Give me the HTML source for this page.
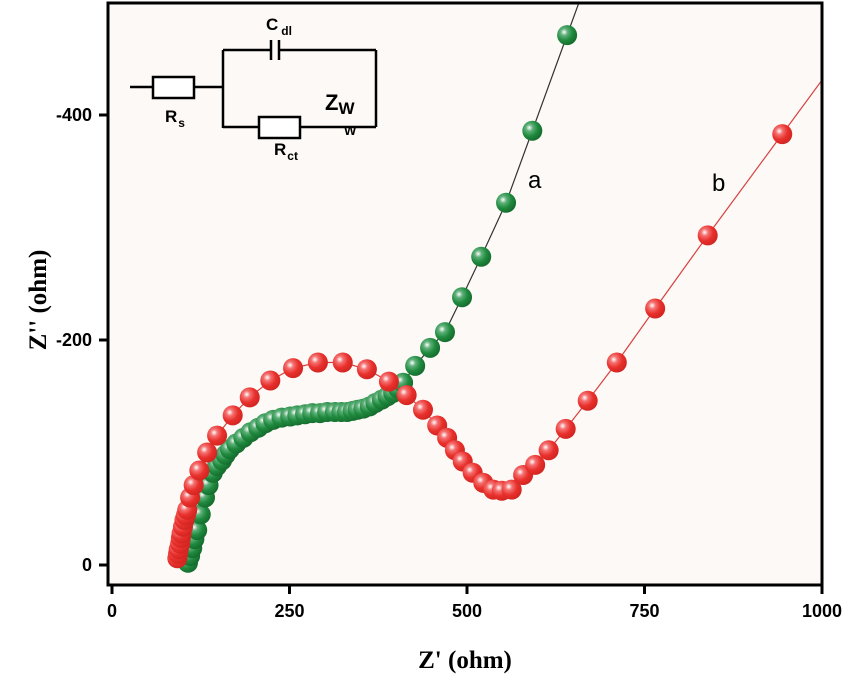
<!DOCTYPE html>
<html><head><meta charset="utf-8"><style>
html,body{margin:0;padding:0;background:#fff;}
svg{display:block;font-family:"Liberation Sans",Arial,sans-serif;}
</style></head><body>
<svg id="chart" width="850" height="681" viewBox="0 0 850 681">
<defs>
<radialGradient id="gg" cx="0.35" cy="0.35" r="0.7">
<stop offset="0" stop-color="#ffffff"/><stop offset="0.25" stop-color="#5fb07a"/><stop offset="0.6" stop-color="#1f8a3e"/><stop offset="1" stop-color="#146a2c"/></radialGradient>
<radialGradient id="rg" cx="0.35" cy="0.35" r="0.7">
<stop offset="0" stop-color="#ffffff"/><stop offset="0.25" stop-color="#f47070"/><stop offset="0.6" stop-color="#e8302c"/><stop offset="1" stop-color="#d02420"/></radialGradient>
<clipPath id="clip"><rect x="108" y="3" width="714" height="582"/></clipPath>
</defs>
<rect x="108" y="3" width="714" height="582" fill="#fcf9f6"/>
<g id="series" clip-path="url(#clip)"></g>
<rect x="108" y="3" width="714" height="582" fill="none" stroke="#000" stroke-width="3"/>
<g id="axes"></g>
<text x="465" y="668" text-anchor="middle" font-family="Liberation Serif,serif" font-weight="bold" font-size="25">Z' (ohm)</text>
<text transform="translate(46,300) rotate(-90)" text-anchor="middle" font-family="Liberation Serif,serif" font-weight="bold" font-size="25">Z'' (ohm)</text>
<text x="528" y="188" font-size="24">a</text>
<text x="712" y="191" font-size="24">b</text>
<g stroke="#000" stroke-width="2.5" fill="none">
<line x1="130" y1="87" x2="153" y2="87"/>
<rect x="153" y="77" width="41" height="21" fill="#fff"/>
<line x1="194" y1="87" x2="223" y2="87"/>
<line x1="223" y1="50" x2="223" y2="128"/>
<line x1="223" y1="50" x2="271" y2="50"/>
<line x1="271" y1="40" x2="271" y2="60"/>
<line x1="279" y1="40" x2="279" y2="60"/>
<line x1="279" y1="50" x2="376" y2="50"/>
<line x1="376" y1="50" x2="376" y2="127"/>
<line x1="223" y1="127" x2="259" y2="127"/>
<rect x="259" y="117" width="41" height="21" fill="#fff"/>
<line x1="300" y1="127" x2="376" y2="127"/>
</g>
<g font-family="Liberation Sans,sans-serif" fill="#000" font-weight="bold">
<text x="266" y="30" font-size="17">C<tspan font-size="12" dx="3" dy="5">dl</tspan></text>
<text x="165" y="122" font-size="17">R<tspan font-size="12" dx="1" dy="5">s</tspan></text>
<text x="274" y="155" font-size="17">R<tspan font-size="12" dx="1" dy="5">ct</tspan></text>
<text x="325" y="110" font-size="22">Z<tspan font-size="17" dy="4">W</tspan></text>
<text x="344" y="135" font-size="13">W</text>
</g>
</svg>
<script>
const xTicks=[0,250,500,750,1000];
const yTicks=[0,-200,-400];
const aRe=[107,110,113,116,120,125,131,136,142,148,155,160,166,175,185,195,206,216,227,239,251,261,272,282,293,303,314,323,331,339,346,354,363,371,380,388,396,403,410,427,448,469,493,520,555,592,641];
const aIm=[2,8,15,23,31,45,60,71,82,88,93,98,103,108,113,118,122,126,129,131,132,133,134,135,135,136,136,136,136,137,138,139,141,144,147,150,153,157,162,177,193,207,238,274,322,386,471];
const bRe=[92,93,94,96,97,98,100,102,104,106,110,115,123,134,148,170,194,223,255,290,325,359,390,415,438,458,472,483,494,508,523,537,549,563,579,596,615,639,670,711,765,839,944];
const bIm=[6,10,14,19,24,28,34,40,44,49,60,71,84,100,115,133,149,164,175,180,180,174,163,151,138,124,113,102,92,82,73,67,66,67,80,89,102,121,146,180,228,293,383];
const X=v=>112+0.71*v, Y=v=>565-1.125*v;
const NS='http://www.w3.org/2000/svg';
const mk=(t,a,p)=>{const e=document.createElementNS(NS,t);for(const k in a)e.setAttribute(k,a[k]);p.appendChild(e);return e;};
const axes=document.getElementById('axes'), ser=document.getElementById('series');
xTicks.forEach(v=>{
 const l=mk('line',{x1:X(v),x2:X(v),y1:585,y2:594,stroke:'#000','stroke-width':3},axes);
 
 
 const t=mk('text',{x:X(v),y:617,'text-anchor':'middle','font-size':18,'font-weight':'bold'},axes);
 t.textContent=v;
 
 
});
yTicks.forEach(v=>{
 const y=Y(-v);
 const l=mk('line',{x1:99,x2:108,y1:y,y2:y,stroke:'#000','stroke-width':3},axes);
 
 
 const t=mk('text',{x:92,y:y+6,'text-anchor':'end','font-size':18,'font-weight':'bold'},axes);
 t.textContent=v;
 
 
});
function series(re,im,col,grad,name){
 const n=re.length;
 const dx=re[n-1]-re[n-2], dy=im[n-1]-im[n-2];
 const ext=[re[n-1]+dx*3,im[n-1]+dy*3];
 let pts=re.map((v,i)=>X(v)+','+Y(im[i])).join(' ')+' '+X(ext[0])+','+Y(ext[1]);
 const pl=mk('polyline',{points:pts,fill:'none',stroke:col,'stroke-width':1.2},ser);
 
 
 re.forEach((v,i)=>{
  const c=mk('circle',{cx:X(v),cy:Y(im[i]),r:10,fill:'url(#'+grad+')'},ser);
  
  
 });
}
series(aRe,aIm,'#333','gg','series-a');
series(bRe,bIm,'#d84040','rg','series-b');
</script>
</body></html>
